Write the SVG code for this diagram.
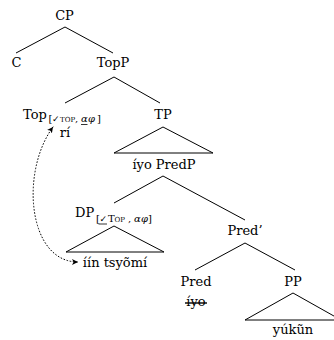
<svg xmlns="http://www.w3.org/2000/svg" width="334" height="340" viewBox="0 0 334 340">
<style>
text{font-family:'DejaVu Serif','Liberation Serif',serif;fill:#000}
.t{font-size:13px}
.m{text-anchor:middle}
.s{font-size:10px}
.sc{font-size:7px}
.ck{font-family:'DejaVu Sans',sans-serif;font-size:9px}
.e{fill:none;stroke:#000;stroke-width:1;stroke-linejoin:miter}
.u{stroke:#000;stroke-width:0.8}
</style>
<defs>
<marker id="ah" markerUnits="userSpaceOnUse" markerWidth="8" markerHeight="8" refX="6" refY="3" orient="auto-start-reverse">
<path d="M0,0 L6,3 L0,6 L1.6,3 Z" fill="#000"/>
</marker>
</defs>
<g id="connectors">
<path class="e" d="M16,53 L65,27 L113,53"/>
<path class="e" d="M65,103 L114,77 L160,103"/>
<path class="e" d="M114,153 L163,127 L213,153 Z"/>
<path class="e" d="M114,203 L163,176 L245,220"/>
<path class="e" d="M66,252 L114,226 L164,252 Z"/>
<path class="e" d="M195,270 L245,243 L295,270"/>
<path class="e" d="M245,320 L293,293 L341,320 Z"/>
<path d="M53,127 C20,172 28,262 78,262" fill="none" stroke="#000" stroke-width="1" stroke-dasharray="0.8 2.4" stroke-linecap="round" marker-start="url(#ah)" marker-end="url(#ah)"/>
</g>
<g id="CP"><text class="t m" x="64.5" y="20">CP</text></g>
<g id="C"><text class="t m" x="16.5" y="67">C</text></g>
<g id="TopP"><text class="t m" x="113" y="67">TopP</text></g>
<g id="Top">
<text class="t" x="23" y="119">Top</text>
<text class="s" x="48.5" y="122">[</text>
<text class="ck" x="52" y="122">✓</text>
<text class="sc" x="60" y="122">TOP</text>
<text class="s" x="75" y="122">,</text>
<text class="s" x="81" y="122" font-style="italic">α</text>
<line class="u" x1="81" y1="124.5" x2="87.5" y2="124.5"/>
<text class="s" x="88" y="122" font-style="italic">φ</text>
<text class="s" x="97" y="122">]</text>
<text class="t m" x="65" y="137">rí</text>
</g>
<g id="TP">
<text class="t m" x="163" y="119">TP</text>
<text class="t m" x="164" y="169">íyo PredP</text>
</g>
<g id="DP">
<text class="t" x="75" y="217">DP</text>
<text class="s" x="96" y="222">[</text>
<text class="ck" x="99.5" y="222">✓</text>
<line class="u" x1="98.5" y1="224" x2="107" y2="224"/>
<text class="s" x="108" y="222">T</text>
<text class="sc" x="114.5" y="222">OP</text>
<text class="s" x="128" y="222">,</text>
<text class="s" x="134" y="222" font-style="italic">α</text>
<text class="s" x="141" y="222" font-style="italic">φ</text>
<text class="s" x="148" y="222">]</text>
<text class="t m" x="115" y="267">íín tsyõmí</text>
</g>
<g id="PredBar"><text class="t m" x="245" y="235">Pred’</text></g>
<g id="Pred">
<text class="t m" x="196" y="286">Pred</text>
<text class="t m" x="196" y="306">íyo</text>
<line x1="185" y1="303" x2="207" y2="303" stroke="#000" stroke-width="1.4"/>
</g>
<g id="PP">
<text class="t m" x="293" y="286">PP</text>
<text class="t m" x="293" y="334">yúkũn</text>
</g>
</svg>
